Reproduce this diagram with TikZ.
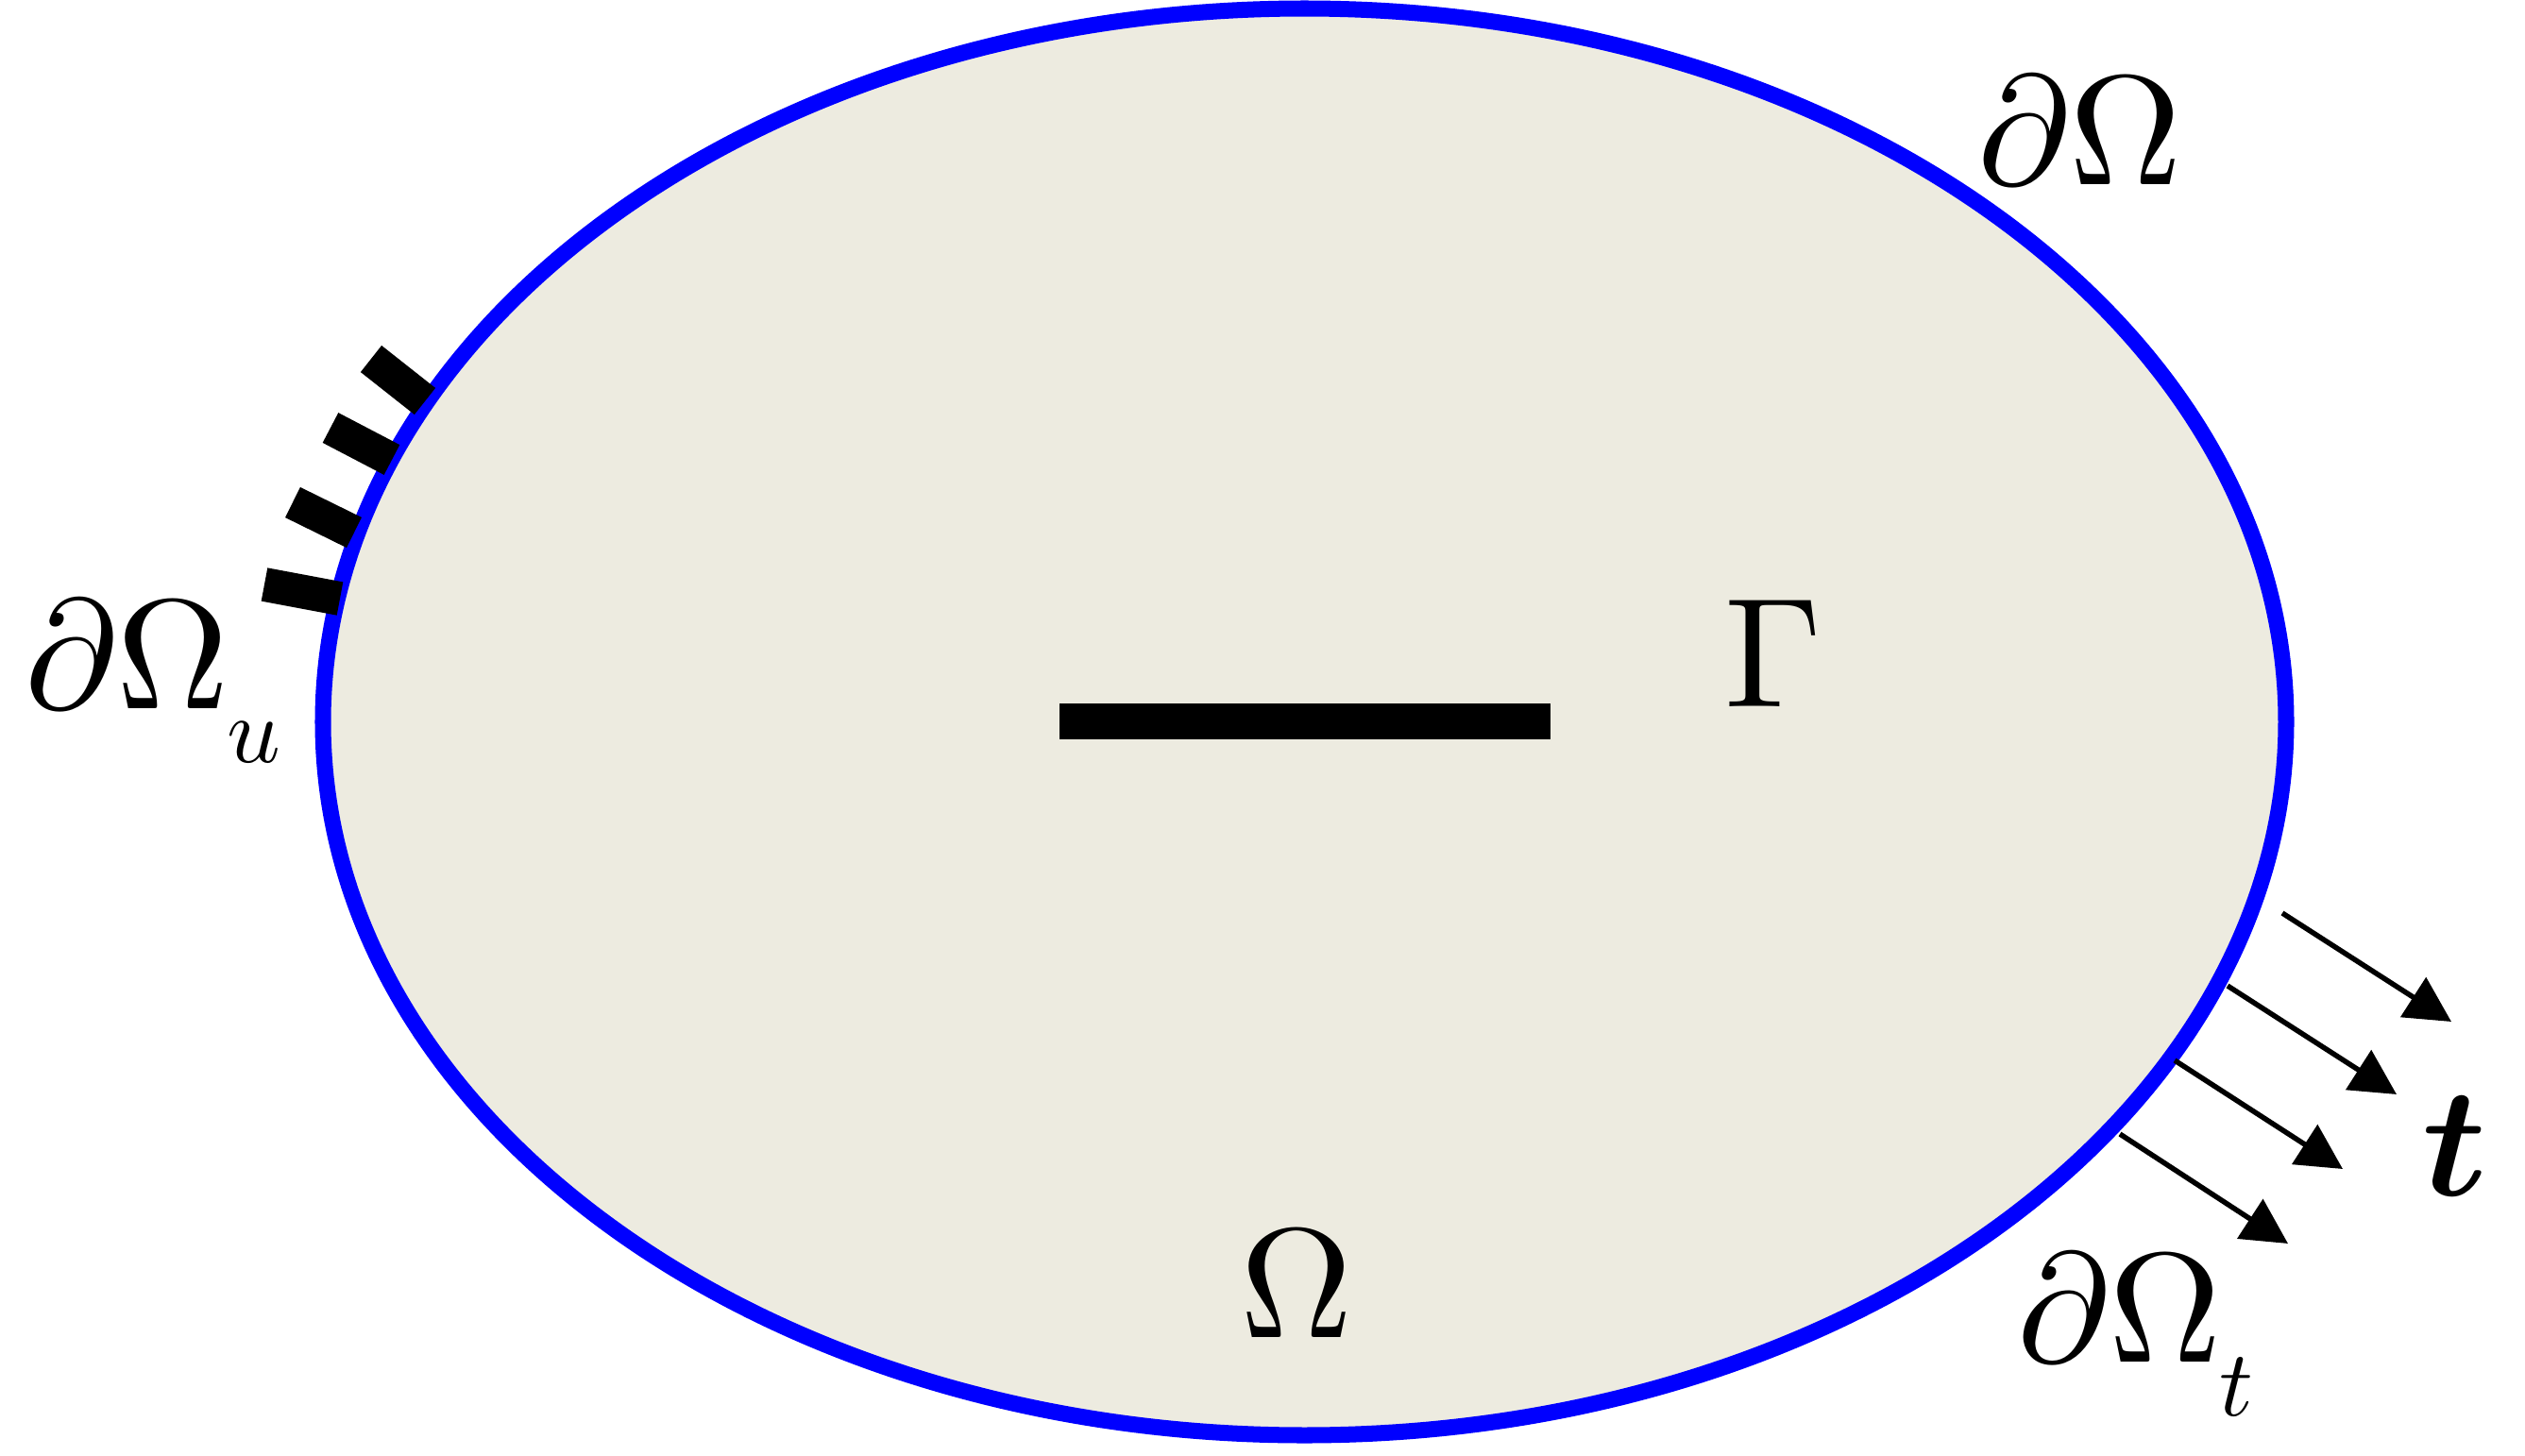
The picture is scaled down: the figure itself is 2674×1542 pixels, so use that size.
\RequirePackage{fix-cm}
\documentclass[tikz,border=0pt]{standalone}
\usepackage{graphicx}
\usepackage{bm}
\usetikzlibrary{arrows.meta}
\definecolor{domainfill}{RGB}{237,235,224}
\newcommand{\bigsym}[1]{\scalebox{4.7}{#1}}
\newcommand{\lowsub}[1]{\hspace{-0.15pt}\raisebox{-3.45pt}{\scalebox{0.6}{$#1$}}}
\begin{document}
\begin{tikzpicture}[x=0.01cm,y=-0.01cm,
  mainlabel/.style={inner sep=0pt, font=\fontsize{10}{12}\selectfont},
  supportbar/.style={line width=10.2pt, line cap=butt, black},
  traction/.style={line width=1.56pt, black, -{Triangle[length=0.48cm,width=0.49cm]}},
  boundary/.style={draw=blue, line width=4.84pt},
]
\useasboundingbox (0,0) rectangle (2674,1542);
% domain
\fill[domainfill] (1381.5,764.5) ellipse [x radius=1039.5, y radius=755.5];
\draw[boundary] (1381.5,764.5) ellipse [x radius=1039.5, y radius=755.5];
% crack
\fill[black] (1122,745) rectangle (1642,783);
% Dirichlet support bars
\coordinate (b1o) at (393,380); \coordinate (b1i) at (450,425);
\coordinate (b2o) at (350,453); \coordinate (b2i) at (415,487);
\coordinate (b3o) at (310,532); \coordinate (b3i) at (375,564);
\coordinate (b4o) at (280,619); \coordinate (b4i) at (360,634);
\draw[supportbar] (b1o) -- (b1i);
\draw[supportbar] (b2o) -- (b2i);
\draw[supportbar] (b3o) -- (b3i);
\draw[supportbar] (b4o) -- (b4i);
% traction arrows
\coordinate (a1s) at (2417,967);  \coordinate (a1e) at (2596,1082);
\coordinate (a2s) at (2359,1044); \coordinate (a2e) at (2538,1159);
\coordinate (a3s) at (2303,1123); \coordinate (a3e) at (2481,1238);
\coordinate (a4s) at (2245,1201); \coordinate (a4e) at (2423,1317);
\draw[traction] (a1s) -- (a1e);
\draw[traction] (a2s) -- (a2e);
\draw[traction] (a3s) -- (a3e);
\draw[traction] (a4s) -- (a4e);
% labels
\node[mainlabel, anchor=base west] (lblboundary) at (2094,195) {\bigsym{$\partial\Omega$}};
\node[mainlabel, anchor=base] (lbldomain) at (1373.5,1416) {\bigsym{$\Omega$}};
\node[mainlabel, anchor=base] (lblcrack) at (1878,748) {\bigsym{$\Gamma$}};
\node[mainlabel, anchor=base west] (lbldirichlet) at (26,750) {\bigsym{$\partial\Omega$\lowsub{u}}};
\node[mainlabel, anchor=base west] (lblneumann) at (2136,1442) {\bigsym{$\partial\Omega$\lowsub{t}}};
\node[mainlabel, anchor=base] (lbltraction) at (2600,1266) {\bigsym{$\bm{t}$}};
\end{tikzpicture}
\end{document}
